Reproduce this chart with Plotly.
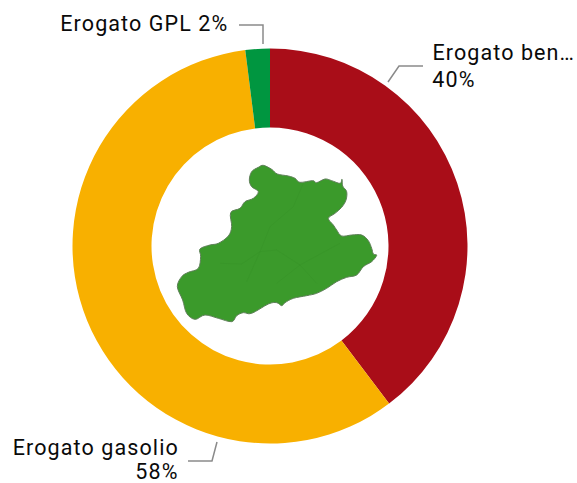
import plotly.graph_objects as go

W, H = 577, 483
categories = ["Erogato benzina", "Erogato gasolio", "Erogato GPL"]
values = [39.7, 58.3, 2.0]
colors = ["#A90D18", "#F8B000", "#009640"]
label_lines = [["Erogato ben…", "40%"], ["Erogato gasolio", "58%"], ["Erogato GPL 2%"]]

# Decorative territory silhouette, in pixels of a 3x enlargement of the area from (160,150)
map_outline = [(310,46),(335,58),(352,72),(385,78),(405,85),(420,97),(458,92),(470,98),(495,87),(515,92),(540,100),(546,88),(548,108),(560,125),(558,150),(545,172),(525,190),(505,205),(520,225),(530,240),(545,258),(575,255),(605,255),(625,272),(635,295),(640,312),(650,316),(635,335),(610,350),(590,375),(560,382),(530,395),(500,415),(470,430),(440,437),(400,445),(375,458),(365,467),(350,458),(325,462),(275,490),(250,488),(230,497),(215,515),(175,505),(135,495),(105,508),(80,490),(68,450),(52,410),(65,380),(85,367),(115,355),(122,320),(120,297),(150,285),(175,280),(205,258),(215,230),(212,188),(240,175),(255,155),(280,145),(295,125),(275,110),(268,90),(275,65),(295,52)]
map_borders = [
    [(180,340),(245,342),(300,305),(350,300),(420,345),(470,400)],
    [(300,305),(330,230),(400,170),(430,100)],
    [(260,395),(300,305)],
    [(350,400),(420,345),(540,280)],
]

leaders = [
    [(388,82),(399,66),(423,66)],
    [(217,442),(212,461),(188,461)],
    [(263,44),(263,25),(239,25)],
]

def px(x, y):
    return x / W, 1 - y / H

def path(points, close=False):
    p = [px(*q) for q in points]
    s = "M " + " L ".join(f"{a:.5f},{b:.5f}" for a, b in p)
    return s + (" Z" if close else "")

def smooth_path(points):
    p = [px(*q) for q in points]
    n = len(p)
    s = f"M {p[0][0]:.5f},{p[0][1]:.5f}"
    for i in range(n):
        p0, p1, p2, p3 = p[i-1], p[i], p[(i+1) % n], p[(i+2) % n]
        c1 = (p1[0] + (p2[0]-p0[0])/6, p1[1] + (p2[1]-p0[1])/6)
        c2 = (p2[0] - (p3[0]-p1[0])/6, p2[1] - (p3[1]-p1[1])/6)
        s += f" C {c1[0]:.5f},{c1[1]:.5f} {c2[0]:.5f},{c2[1]:.5f} {p2[0]:.5f},{p2[1]:.5f}"
    return s + " Z"

def zoomed(pts):
    return [(160 + a/3, 150 + b/3) for a, b in pts]

fig = go.Figure(go.Pie(
    labels=categories, values=values, sort=False, direction="clockwise", rotation=0,
    hole=0.6, textinfo="none", marker=dict(colors=colors, line=dict(width=0)),
    domain=dict(x=[72.5/W, 467.5/W], y=[1-443.5/H, 1-48.5/H]), showlegend=False,
    hoverinfo="skip",
))

shapes = [dict(type="path", xref="paper", yref="paper",
               path=smooth_path(zoomed(map_outline)),
               fillcolor="#3B9A2B", line=dict(color="#5E7F58", width=1))]
for b in map_borders:
    shapes.append(dict(type="path", xref="paper", yref="paper", path=path(zoomed(b)),
                       line=dict(color="#379428", width=0.6)))
for l in leaders:
    shapes.append(dict(type="path", xref="paper", yref="paper", path=path(l),
                       line=dict(color="#8A8A8A", width=1.5)))

font = dict(family="Roboto", size=21.5, color="#0A0A0A")
text_items = [
    (503.5, 53, label_lines[0][0]),
    (454, 79, label_lines[0][1]),
    (95.5, 447.5, label_lines[1][0]),
    (157, 471, label_lines[1][1]),
    (144.5, 24, label_lines[2][0]),
]
annotations = [dict(x=x/W, y=1-y/H, xanchor="center", yanchor="middle", text=t, xref="paper",
                    yref="paper", showarrow=False, font=font, borderpad=0, borderwidth=0)
               for x, y, t in text_items]

fig.update_layout(width=W, height=H, margin=dict(l=0, r=0, t=0, b=0),
                  paper_bgcolor="white", shapes=shapes, annotations=annotations)
fig.write_html("out.html", config=dict(displayModeBar=False),
               post_script="document.body.style.margin='0';document.documentElement.style.overflow='hidden';"
                           "document.querySelectorAll('.annotation-text').forEach(function(t){t.style.letterSpacing='1.1px';});")
